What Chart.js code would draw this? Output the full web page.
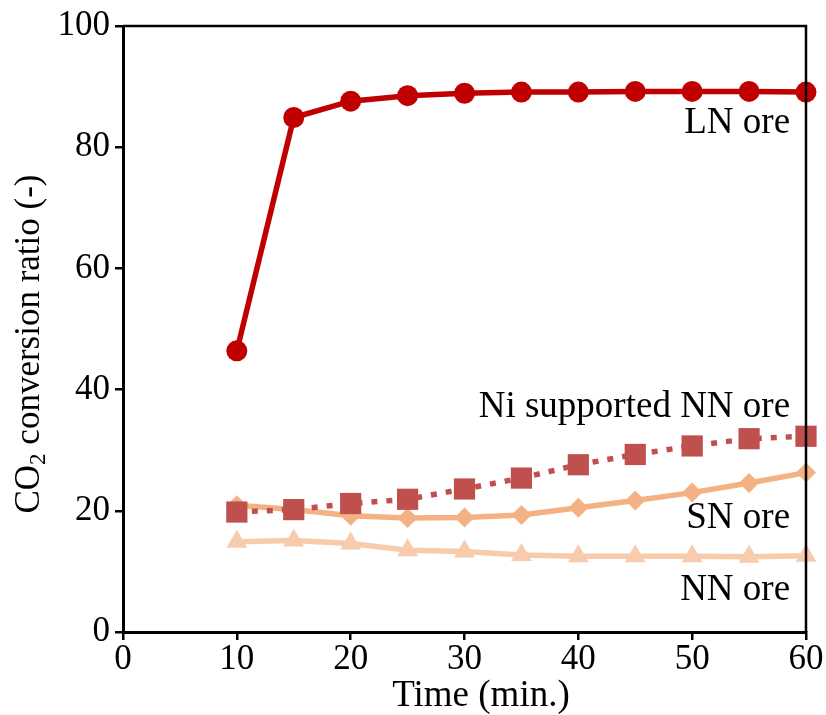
<!DOCTYPE html>
<html>
<head>
<meta charset="utf-8">
<script src="https://cdn.jsdelivr.net/npm/chart.js@4/dist/chart.umd.min.js"></script>
<style>
html,body{margin:0;padding:0;background:#fff;}
#wrap{width:826px;height:715px;position:relative;}
</style>
</head>
<body>
<div id="wrap"><canvas id="c" width="826" height="715"></canvas></div>
<script>
const times = [10, 15, 20, 25, 30, 35, 40, 45, 50, 55, 60];
const lnOre = [46.4, 84.9, 87.6, 88.5, 88.9, 89.1, 89.1, 89.2, 89.2, 89.2, 89.1];
const niSupportedNnOre = [19.8, 20.2, 21.2, 21.9, 23.6, 25.4, 27.6, 29.3, 30.7, 31.9, 32.3];
const snOre = [20.9, 20.2, 19.2, 18.8, 18.9, 19.3, 20.5, 21.7, 23.0, 24.6, 26.3];
const nnOre = [14.9, 15.1, 14.6, 13.5, 13.3, 12.7, 12.5, 12.5, 12.5, 12.4, 12.6];
const xTicks = [0, 10, 20, 30, 40, 50, 60];
const yTicks = [0, 20, 40, 60, 80, 100];
const seriesLabels = ["LN ore", "Ni supported NN ore", "SN ore", "NN ore"];
const labelAnchors = [[58.6, 83.9], [58.6, 37.0], [58.6, 18.7], [58.6, 6.9]];

const FONT = "'Liberation Serif', 'Times New Roman', serif";
const pts = arr => times.map((t, i) => ({x: t, y: arr[i]}));

const framePlugin = {
  id: 'frame',
  afterDatasetsDraw(chart) {
    const {ctx, chartArea: a, scales} = chart;
    ctx.save();
    ctx.strokeStyle = '#000';
    ctx.lineWidth = 2.5;
    ctx.beginPath();
    ctx.moveTo(a.left, a.top);
    ctx.lineTo(a.right, a.top);
    ctx.lineTo(a.right, a.bottom);
    ctx.stroke();
    // series labels
    ctx.fillStyle = '#000';
    ctx.font = "37px " + FONT;
    ctx.textAlign = 'right';
    ctx.textBaseline = 'middle';
    seriesLabels.forEach((s, i) => {
      ctx.fillText(s, scales.x.getPixelForValue(labelAnchors[i][0]), scales.y.getPixelForValue(labelAnchors[i][1]));
    });
    // x title
    ctx.textAlign = 'center';
    ctx.font = "37px " + FONT;
    ctx.fillText('Time (min.)', 481, 696);
    // y title with subscript
    ctx.translate(30, 344);
    ctx.rotate(-Math.PI / 2);
    const big = "35px " + FONT, small = "23px " + FONT;
    ctx.font = big; const w1 = ctx.measureText('CO').width;
    ctx.font = small; const w2 = ctx.measureText('2').width;
    ctx.font = big; const w3 = ctx.measureText(' conversion ratio (-)').width;
    let x0 = -(w1 + w2 + w3) / 2;
    ctx.textAlign = 'left';
    ctx.font = big; ctx.fillText('CO', x0, 0);
    ctx.font = small; ctx.fillText('2', x0 + w1, 9);
    ctx.font = big; ctx.fillText(' conversion ratio (-)', x0 + w1 + w2, 0);
    ctx.restore();
  }
};

new Chart(document.getElementById('c'), {
  type: 'line',
  data: {
    datasets: [
      {label: seriesLabels[0], data: pts(lnOre), borderColor: '#c00000', backgroundColor: '#c00000',
        borderWidth: 5.5, pointStyle: 'circle', pointRadius: 10.5, pointBorderWidth: 0, clip: false},
      {label: seriesLabels[1], data: pts(niSupportedNnOre), borderColor: '#c0504d', backgroundColor: '#c0504d',
        borderWidth: 5.5, borderDash: [6, 9], pointStyle: 'rect', pointRadius: 15, pointBorderWidth: 0, clip: false},
      {label: seriesLabels[2], data: pts(snOre), borderColor: '#f4b183', backgroundColor: '#f4b183',
        borderWidth: 5.5, pointStyle: 'rectRot', pointRadius: 10, pointBorderWidth: 0, clip: false},
      {label: seriesLabels[3], data: pts(nnOre), borderColor: '#f8cbad', backgroundColor: '#f8cbad',
        borderWidth: 5.5, pointStyle: 'triangle', pointRadius: 12, pointBorderWidth: 0, clip: false}
    ]
  },
  options: {
    responsive: false,
    animation: false,
    layout: {padding: {top: 22, right: 20, left: 0, bottom: 0}},
    plugins: {legend: {display: false}, tooltip: {enabled: false}},
    scales: {
      x: {
        type: 'linear', min: 0, max: 60,
        afterBuildTicks: s => { s.ticks = xTicks.map(v => ({value: v})); },
        afterFit: s => { s.height = 83; },
        ticks: {color: '#000', font: {family: FONT, size: 35}, padding: -1, maxRotation: 0},
        grid: {drawOnChartArea: false, drawTicks: true, tickLength: 8, color: '#000', lineWidth: 2.5},
        border: {color: '#000', width: 3}
      },
      y: {
        min: 0, max: 100,
        afterBuildTicks: s => { s.ticks = yTicks.map(v => ({value: v})); },
        afterFit: s => { s.width = 123; },
        ticks: {color: '#000', font: {family: FONT, size: 35}, padding: 5},
        grid: {drawOnChartArea: false, drawTicks: true, tickLength: 8, color: '#000', lineWidth: 2.5},
        border: {color: '#000', width: 3}
      }
    }
  },
  plugins: [framePlugin]
});
</script>
</body>
</html>
